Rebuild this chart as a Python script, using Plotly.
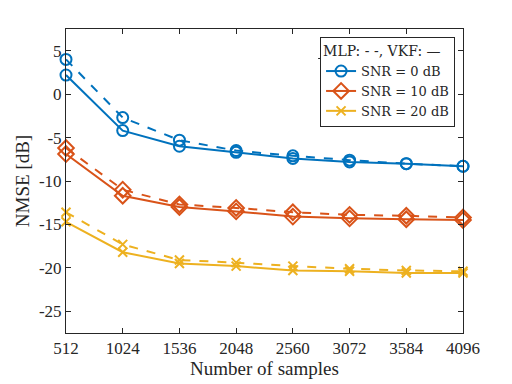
import plotly.graph_objects as go

samples = [512, 1024, 1536, 2048, 2560, 3072, 3584, 4096]
snr_labels = ["SNR = 0 dB", "SNR = 10 dB", "SNR = 20 dB"]

mlp_0 = [4.0, -2.7, -5.3, -6.5, -7.1, -7.6, -8.0, -8.3]
vkf_0 = [2.2, -4.2, -6.0, -6.7, -7.4, -7.8, -8.0, -8.3]
mlp_10 = [-6.2, -11.0, -12.7, -13.1, -13.6, -13.9, -14.0, -14.2]
vkf_10 = [-6.9, -11.7, -13.0, -13.5, -14.1, -14.3, -14.4, -14.5]
mlp_20 = [-13.6, -17.3, -19.1, -19.4, -19.8, -20.1, -20.3, -20.4]
vkf_20 = [-14.7, -18.2, -19.5, -19.8, -20.3, -20.4, -20.6, -20.6]

colors = ["#0072BD", "#D95319", "#EDB120"]
symbols = ["circle-open", "diamond-open", "x-thin-open"]
sizes = [11, 12, 9]

fig = go.Figure()
for mlp, vkf, lab, c, s, sz in zip([mlp_0, mlp_10, mlp_20], [vkf_0, vkf_10, vkf_20],
                                   snr_labels, colors, symbols, sizes):
    fig.add_trace(go.Scatter(x=samples, y=mlp, mode="lines+markers", showlegend=False,
                             line=dict(color=c, width=2, dash="dash"),
                             marker=dict(symbol=s, size=sz, color=c, line=dict(width=2, color=c)),
                             cliponaxis=False))
    fig.add_trace(go.Scatter(x=samples, y=vkf, mode="lines+markers", name=lab,
                             line=dict(color=c, width=2),
                             marker=dict(symbol=s, size=sz, color=c, line=dict(width=2, color=c)),
                             cliponaxis=False))

axis = dict(showline=True, linecolor="#262626", linewidth=1, mirror="ticks", ticks="inside",
            ticklen=5, tickcolor="#262626", showgrid=False, zeroline=False,
            tickfont=dict(size=17, color="#262626"))

# page has an 8px body margin, so margins are shifted to keep the plot box in place
fig.update_layout(
    width=512, height=384,
    paper_bgcolor="white", plot_bgcolor="white",
    font=dict(family="Liberation Serif, DejaVu Serif, serif", size=17, color="#262626"),
    margin=dict(l=58, r=57, t=21, b=59),
    xaxis=dict(axis, range=[512, 4096], tickvals=samples,
               title=dict(text="Number of samples", standoff=2, font=dict(size=19))),
    yaxis=dict(axis, range=[-27.5, 7.5], tickvals=[5, 0, -5, -10, -15, -20, -25],
               ticktext=["5", "0", "-5", "-10", "-15", "-20", "-25"],
               title=dict(text="NMSE [dB]", standoff=4, font=dict(size=19))),
    legend=dict(x=0.98, y=0.974, xanchor="right", yanchor="top",
                bordercolor="#262626", borderwidth=1, bgcolor="white",
                title=dict(text="MLP: - -, VKF: \u2014", side="top",
                           font=dict(size=14, family="DejaVu Serif")),
                font=dict(size=13, family="DejaVu Serif"), itemwidth=30, tracegroupgap=0),
    showlegend=True,
)
fig.add_shape(type="line", xref="paper", yref="paper", x0=0.635, x1=0.98, y0=0.903, y1=0.903,
              line=dict(color="#262626", width=1))

fig.write_html("out.html")
